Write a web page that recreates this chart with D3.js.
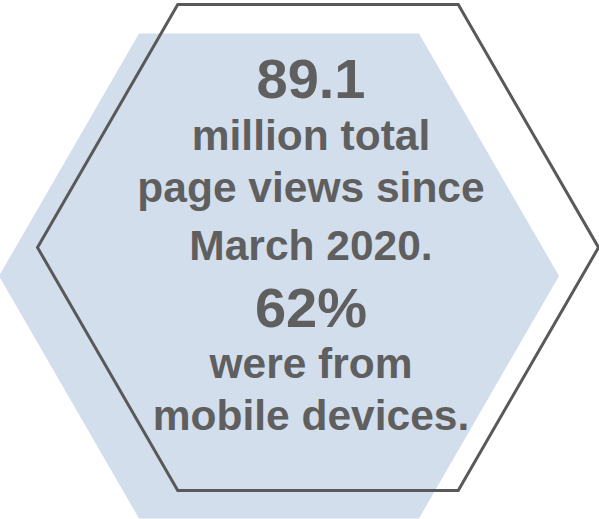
<!DOCTYPE html>
<html>
<head>
<meta charset="utf-8">
<script src="https://cdn.jsdelivr.net/npm/d3@7"></script>
<style>
  body { margin: 0; background: #fff; }
</style>
</head>
<body>
<div id="my_dataviz"></div>
<script>
// data: the two headline figures and the words under each
var statValues = ["89.1", "62%"];
var statLabels = [
  ["million total", "page views since", "March 2020."],
  ["were from", "mobile devices."]
];

var width = 599, height = 519;

var svg = d3.select("#my_dataviz")
  .append("svg")
  .attr("width", width)
  .attr("height", height);

// regular hexagon with flat top and bottom
function hexPoints(cx, cy, r) {
  return d3.range(6).map(function(i) {
    var a = Math.PI / 3 * i;
    return [cx + r * Math.cos(a), cy + r * Math.sin(a)];
  });
}
var hexLine = d3.line().curve(d3.curveLinearClosed);

// filled background hexagon
svg.append("path")
  .attr("d", hexLine(hexPoints(279, 276, 280)))
  .style("fill", "#d3deed");

// outlined hexagon, shifted up and right
svg.append("path")
  .attr("d", hexLine(hexPoints(318, 247.5, 280.5)))
  .style("fill", "none")
  .style("stroke", "#595959")
  .style("stroke-width", 3);

// text block
var lines = [];
statValues.forEach(function(v, i) {
  lines.push({text: v, big: true});
  statLabels[i].forEach(function(t) { lines.push({text: t, big: false}); });
});

// baselines of each line
var baselines = [98, 150, 202, 260, 327, 378, 430];

svg.append("g")
  .selectAll("text")
  .data(lines)
  .enter()
  .append("text")
  .attr("x", 311)
  .attr("y", function(d, i) { return baselines[i]; })
  .attr("text-anchor", "middle")
  .style("font-family", "'Liberation Sans', Arial, sans-serif")
  .style("font-weight", "bold")
  .style("font-size", function(d) { return d.big ? "56px" : "42.5px"; })
  .style("fill", "#5f5f5f")
  .text(function(d) { return d.text; });
</script>
</body>
</html>
